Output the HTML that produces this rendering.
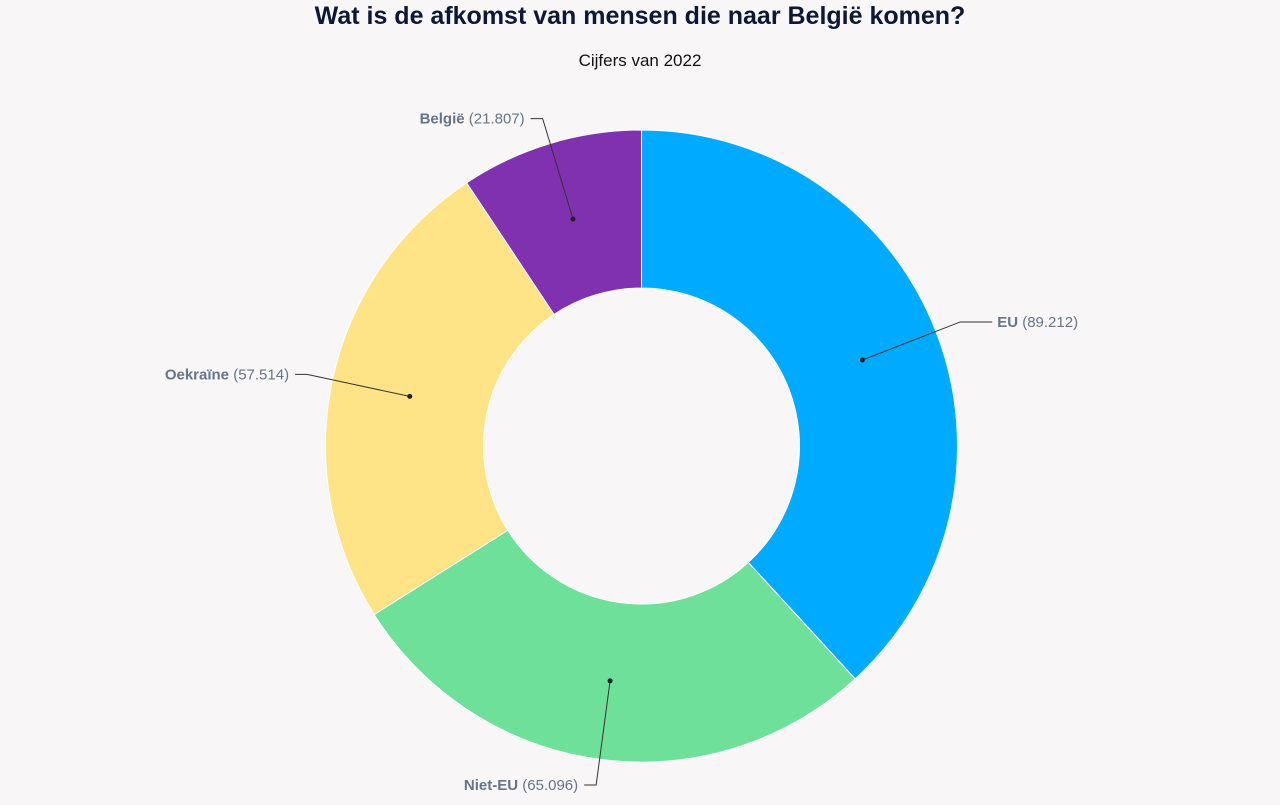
<!DOCTYPE html>
<html><head><meta charset="utf-8">
<style>
body{margin:0;background:#f8f6f7;font-family:"Liberation Sans",sans-serif;}
#wrap{position:relative;width:1280px;height:805px;}
h1{position:absolute;top:2px;left:0;width:1280px;text-align:center;margin:0;font-size:25px;font-weight:bold;color:#0d1736;}
.sub{position:absolute;top:51px;left:0;width:1280px;text-align:center;font-size:17px;color:#111;}
</style></head><body>
<div id="wrap">
<h1>Wat is de afkomst van mensen die naar België komen?</h1>
<div class="sub">Cijfers van 2022</div>
<svg id="svg" width="1280" height="805" style="position:absolute;left:0;top:0"></svg>
</div>
<script>
const categories=["EU","Niet-EU","Oekraïne","België"];
const values=[89212,65096,57514,21807];
const valueLabels=["89.212","65.096","57.514","21.807"];
const colors=["#00aaff","#6ee09a","#ffe386","#8031b0"];
const cx=641.5,cy=446,R=316,r=158,NS="http://www.w3.org/2000/svg";
const svg=document.getElementById('svg');
const total=values.reduce((a,b)=>a+b,0);
function pt(a,rad){return [cx+rad*Math.sin(a),cy-rad*Math.cos(a)];}
let acc=0;
values.forEach((v,i)=>{
  const a0=acc/total*2*Math.PI,a1=(acc+v)/total*2*Math.PI;acc+=v;
  const large=(a1-a0)>Math.PI?1:0;
  const p0=pt(a0,R),p1=pt(a1,R),q1=pt(a1,r),q0=pt(a0,r);
  const path=document.createElementNS(NS,'path');
  path.setAttribute('d',`M${p0[0]},${p0[1]}A${R},${R} 0 ${large} 1 ${p1[0]},${p1[1]}L${q1[0]},${q1[1]}A${r},${r} 0 ${large} 0 ${q0[0]},${q0[1]}Z`);
  path.setAttribute('fill',colors[i]);path.setAttribute('stroke','#fff');path.setAttribute('stroke-width','1');
  
  
  svg.appendChild(path);
  const am=(a0+a1)/2,d=pt(am,237),e=pt(am,342);
  const right=Math.sin(am)>0;
  const hx=right?e[0]+32:e[0]-12;
  const line=document.createElementNS(NS,'polyline');
  line.setAttribute('points',`${d[0]},${d[1]} ${e[0]},${e[1]} ${hx},${e[1]}`);
  line.setAttribute('fill','none');line.setAttribute('stroke','#333');line.setAttribute('stroke-width','1');
  
  
  svg.appendChild(line);
  const dot=document.createElementNS(NS,'circle');
  dot.setAttribute('cx',d[0]);dot.setAttribute('cy',d[1]);dot.setAttribute('r','2.5');dot.setAttribute('fill','#222');
  
  
  svg.appendChild(dot);
  const t=document.createElementNS(NS,'text');
  t.setAttribute('x',right?hx+5:hx-6);t.setAttribute('y',e[1]+5);
  t.setAttribute('text-anchor',right?'start':'end');
  t.setAttribute('font-size','15');t.setAttribute('fill','#66748a');
  t.setAttribute('font-family','Liberation Sans, sans-serif');
  
  
  const b=document.createElementNS(NS,'tspan');b.setAttribute('font-weight','bold');b.textContent=categories[i];
  const n=document.createElementNS(NS,'tspan');n.textContent=' ('+valueLabels[i]+')';
  t.appendChild(b);t.appendChild(n);svg.appendChild(t);
});
</script>
</body></html>
